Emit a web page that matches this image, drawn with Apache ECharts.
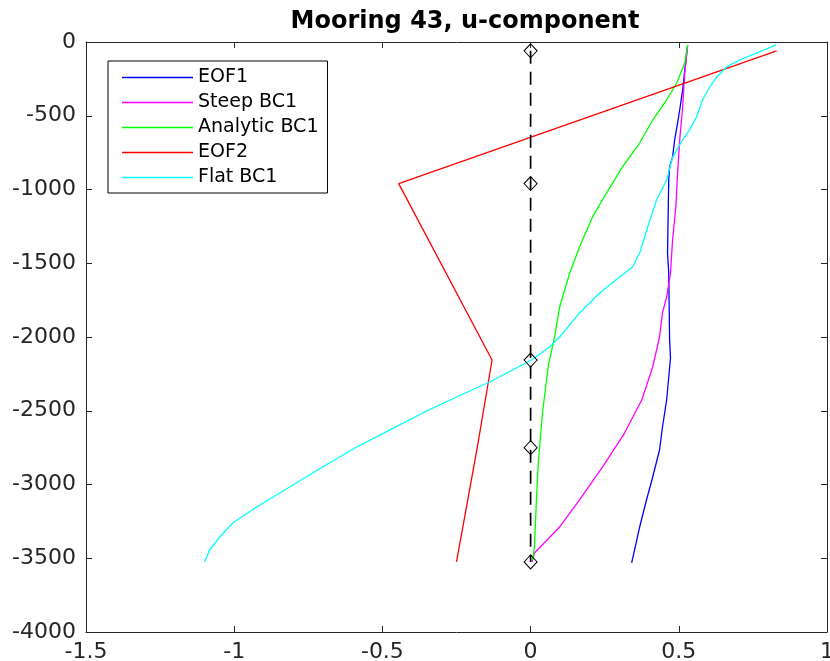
<!DOCTYPE html>
<html>
<head>
<meta charset="utf-8">
<script src="https://cdn.jsdelivr.net/npm/echarts@6/dist/echarts.min.js"></script>
<style>
html,body{margin:0;padding:0;background:#fff;}
#c{width:830px;height:661px;}
</style>
</head>
<body>
<div id="c"></div>
<script>
// Mooring instrument depths (m) and dashed zero reference line
const mooringDepth = [-60, -960, -2156, -2750, -3525];
const zeroU = [0, 0, 0, 0, 0];

// EOF1
const eof1Depth = [-34, -210, -325, -461, -549, -664, -780, -847, -936, -1431, -1566, -2020, -2142, -2427, -2610, -2766, -2949, -3105, -3288, -3532];
const eof1U = [0.529, 0.519, 0.513, 0.503, 0.496, 0.486, 0.479, 0.469, 0.466, 0.462, 0.466, 0.469, 0.472, 0.459, 0.445, 0.435, 0.412, 0.391, 0.368, 0.341];

// Steep BC1
const steepDepth = [-20, -210, -441, -664, -888, -1119, -1342, -1566, -1729, -1837, -2000, -2203, -2427, -2651, -2881, -3105, -3288, -3464, -3525];
const steepU = [0.530, 0.520, 0.513, 0.503, 0.496, 0.490, 0.479, 0.472, 0.459, 0.445, 0.435, 0.412, 0.375, 0.317, 0.243, 0.165, 0.098, 0.013, 0.005];

// Analytic BC1
const analyticDepth = [-20, -142, -278, -393, -529, -685, -847, -1024, -1186, -1390, -1566, -1797, -2000, -2190, -2515, -2854, -3085, -3424, -3512];
const analyticU = [0.530, 0.520, 0.493, 0.459, 0.412, 0.368, 0.310, 0.256, 0.209, 0.165, 0.132, 0.098, 0.081, 0.060, 0.040, 0.026, 0.020, 0.013, 0.007];

// EOF2 (at mooring depths)
const eof2Depth = [-60, -960, -2156, -2750, -3525];
const eof2U = [0.83, -0.445, -0.13, -0.18, -0.25];

// Flat BC1
const flatDepth = [-20, -75, -122, -169, -237, -305, -393, -508, -597, -664, -780, -936, -1071, -1254, -1431, -1525, -1593, -1702, -1837, -2000, -2068, -2156, -2305, -2407, -2515, -2631, -2746, -2881, -3017, -3153, -3261, -3356, -3444, -3525];
const flatU = [0.828, 0.762, 0.705, 0.661, 0.628, 0.604, 0.580, 0.560, 0.536, 0.513, 0.479, 0.459, 0.425, 0.395, 0.368, 0.344, 0.300, 0.233, 0.165, 0.098, 0.064, 0.003, -0.138, -0.250, -0.364, -0.476, -0.587, -0.702, -0.813, -0.924, -1.005, -1.049, -1.083, -1.100];

// Axis ticks
const xTicks = [-1.5, -1, -0.5, 0, 0.5, 1];
const yTicks = [0, -500, -1000, -1500, -2000, -2500, -3000, -3500, -4000];

const seriesNames = ['EOF1', 'Steep BC1', 'Analytic BC1', 'EOF2', 'Flat BC1'];
const seriesColors = ['#0000ff', '#ff00ff', '#00ff00', '#ff0000', '#00ffff'];

function pairs(u, d) { return u.map((v, i) => [v, d[i]]); }

const FONT = 'DejaVu Sans';
const axisColor = '#262626';

const xBase = {
  type: 'value', min: xTicks[0], max: xTicks[xTicks.length - 1], interval: 0.5,
  axisLine: { show: true, onZero: false, lineStyle: { color: axisColor, width: 1 } },
  axisTick: { show: true, inside: true, length: 6, lineStyle: { color: axisColor } },
  splitLine: { show: false }
};
const yBase = {
  type: 'value', min: yTicks[yTicks.length - 1], max: yTicks[0], interval: 500,
  axisLine: { show: true, onZero: false, lineStyle: { color: axisColor, width: 1 } },
  axisTick: { show: true, inside: true, length: 6, lineStyle: { color: axisColor } },
  splitLine: { show: false }
};

const chart = echarts.init(document.getElementById('c'), null, { renderer: 'canvas' });

const dataSets = [
  pairs(eof1U, eof1Depth),
  pairs(steepU, steepDepth),
  pairs(analyticU, analyticDepth),
  pairs(eof2U, eof2Depth),
  pairs(flatU, flatDepth)
];

const series = seriesNames.map((name, i) => ({
  name: name,
  type: 'line',
  data: dataSets[i],
  showSymbol: false,
  symbol: 'none',
  smooth: false,
  silent: true,
  animation: false,
  z: 3,
  lineStyle: { color: seriesColors[i], width: 1.3 },
  itemStyle: { color: seriesColors[i] }
}));

series.push({
  name: 'mooring',
  type: 'line',
  data: pairs(zeroU, mooringDepth),
  symbol: 'diamond',
  symbolSize: [13, 14],
  showSymbol: true,
  animation: false,
  silent: true,
  z: 4,
  lineStyle: { color: '#000', width: 1.7, type: [13, 8] },
  itemStyle: { color: 'rgba(0,0,0,0)', borderColor: '#000', borderWidth: 1 }
});

chart.setOption({
  backgroundColor: '#fff',
  animation: false,
  title: {
    text: 'Mooring 43, u-component',
    left: 460, top: 5, textAlign: 'center',
    textStyle: { fontFamily: FONT, fontSize: 24, fontWeight: 'bold', color: '#000' }
  },
  grid: { left: 86, right: 3, top: 42, bottom: 29, containLabel: false, outerBoundsMode: 'none' },
  legend: {
    data: seriesNames,
    orient: 'vertical',
    left: 108, top: 61,
    padding: [4, 9, 3, 14],
    itemGap: 0,
    itemWidth: 71,
    itemHeight: 1.6,
    icon: 'rect',
    borderColor: '#000',
    borderWidth: 1,
    backgroundColor: '#fff',
    selectedMode: false,
    textStyle: { fontFamily: FONT, fontSize: 19, color: '#000', lineHeight: 25, padding: [0, 0, 0, 0] }
  },
  xAxis: [
    Object.assign({}, xBase, {
      position: 'bottom',
      axisLabel: {
        show: true, margin: 9, showMinLabel: true, showMaxLabel: true,
        fontFamily: FONT, fontSize: 22, color: axisColor,
        formatter: v => String(v)
      }
    }),
    Object.assign({}, xBase, { position: 'top', axisLabel: { show: false } })
  ],
  yAxis: [
    Object.assign({}, yBase, {
      position: 'left',
      axisLabel: {
        show: true, margin: 10, showMinLabel: true, showMaxLabel: true,
        fontFamily: FONT, fontSize: 22, color: axisColor,
        formatter: v => String(v)
      }
    }),
    Object.assign({}, yBase, { position: 'right', axisLabel: { show: false } })
  ],
  series: series
});
</script>
</body>
</html>
